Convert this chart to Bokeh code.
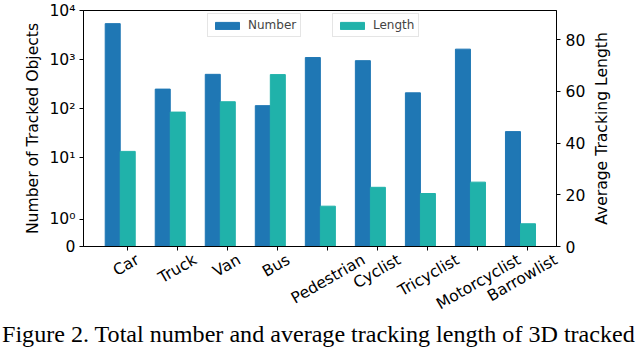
import math
from bokeh.plotting import figure
from bokeh.layouts import row, column
from bokeh.models import (Range1d, LinearAxis, FixedTicker, SingleIntervalTicker,
                          CustomJSTickFormatter, Legend, LegendItem, ColumnDataSource,
                          Title, Div)
from bokeh.embed import file_html
from bokeh.resources import INLINE

# ---------------- data ----------------
categories = ["Car", "Truck", "Van", "Bus", "Pedestrian", "Cyclist",
              "Tricyclist", "Motorcyclist", "Barrowlist"]
number_objects = [5400, 250, 500, 115, 1100, 950, 210, 1630, 34]
avg_length = [36.8, 52.0, 56.0, 66.5, 15.6, 22.9, 20.5, 24.9, 8.8]
left_tick_values = [0, 1, 10, 100, 1000, 10000]
left_tick_labels = ["0", "10\u2070", "10\u00b9", "10\u00b2", "10\u00b3", "10\u2074"]
right_max = 91.3
left_title = "Number of Tracked Objects"
right_title = "Average Tracking Length"
caption = "Figure 2. Total number and average tracking length of 3D tracked"

BLUE = "#1f77b4"
TEAL = "#20b2aa"
FONT = "DejaVu Sans"
FS = "15.6px"
fs_px = 15.6

CAP_H = 22                   # height of the caption strip
H_MAIN = 348 - CAP_H
RW = 50                      # width of the narrow panel holding the right title
W_MAIN = 640 - RW
BL, BT = 83, 10
BB = H_MAIN - 246
BR = W_MAIN - 556
X0, X1 = -0.884, 8.57
ppu = (W_MAIN - BL - BR) / (X1 - X0)

# symlog scale (matplotlib-like, linthresh=2, linscale=1)
LINTHRESH = 2.0
LINSCALE_ADJ = 1.0 / (1.0 - 1.0 / 10.0)


def symlog(v):
    if v <= LINTHRESH:
        return v / LINTHRESH * LINSCALE_ADJ
    return LINSCALE_ADJ + math.log10(v / LINTHRESH)


# approximate DejaVu Sans advance widths (em): used to centre rotated labels on ticks
WID = {"C": .698, "a": .613, "r": .411, "T": .611, "u": .634, "c": .550, "k": .579,
       "V": .684, "n": .634, "B": .686, "s": .521, "P": .603, "e": .615, "d": .635,
       "t": .392, "i": .278, "y": .592, "l": .278, "M": .863, "o": .612, "w": .818}


def text_w(t):
    return sum(WID.get(ch, 0.6) for ch in t) * fs_px


xs = list(range(len(categories)))
label_pos = [min(i + (0.464 * text_w(c) - 2.5) / ppu, X1 - 0.01)
             for i, c in zip(xs, categories)]

src = ColumnDataSource(dict(
    x=xs,
    xn=[i - 0.3 for i in xs],
    num_t=[symlog(v) for v in number_objects],
    length=avg_length,
))

p = figure(width=W_MAIN, height=H_MAIN,
           x_range=Range1d(X0, X1),
           y_range=Range1d(0, symlog(left_tick_values[-1])),
           output_backend="svg", toolbar_location=None,
           min_border_left=BL, min_border_right=BR,
           min_border_top=BT, min_border_bottom=BB)
p.xgrid.visible = False
p.ygrid.visible = False
p.outline_line_color = "black"
p.outline_line_alpha = 1.0
p.outline_line_width = 1

r1 = p.vbar(x="xn", top="num_t", width=0.3, bottom=0, source=src,
            fill_color=BLUE, line_color=BLUE)
p.extra_y_ranges = {"len": Range1d(0, right_max)}
r2 = p.vbar(x="x", top="length", width=0.3, bottom=0, source=src,
            fill_color=TEAL, line_color=TEAL, y_range_name="len")


def style_axis(ax):
    ax.axis_line_color = "black"
    ax.major_tick_line_color = "black"
    ax.major_tick_out = 4
    ax.major_tick_in = 0
    ax.minor_tick_out = 0
    ax.minor_tick_in = 0
    ax.major_label_text_font = FONT
    ax.major_label_text_font_size = FS
    ax.major_label_text_color = "black"
    ax.axis_label_text_font = FONT
    ax.axis_label_text_font_size = FS
    ax.axis_label_text_font_style = "normal"
    ax.axis_label_text_color = "black"


# left axis (symlog)
yax = p.yaxis[0]
style_axis(yax)
yax.ticker = FixedTicker(ticks=[symlog(v) for v in left_tick_values])
yax.formatter = CustomJSTickFormatter(
    args=dict(vals=[symlog(v) for v in left_tick_values], labels=left_tick_labels),
    code="""
    for (let i = 0; i < vals.length; i++) {
        if (Math.abs(vals[i] - tick) < 1e-6) { return labels[i]; }
    }
    return "";
    """)
yax.axis_label = left_title
yax.major_label_standoff = 4
yax.axis_label_standoff = 4

# bottom axis: tick marks at the categories
xax = p.xaxis[0]
style_axis(xax)
xax.ticker = FixedTicker(ticks=xs)
xax.formatter = CustomJSTickFormatter(code="return '';")
xax.major_label_text_font_size = "1px"
xax.major_label_standoff = 0

# second bottom axis: rotated category names, centred on the ticks like the original
lax = LinearAxis(ticker=FixedTicker(ticks=label_pos))
style_axis(lax)
lax.axis_line_color = None
lax.major_tick_line_color = None
lax.major_tick_out = 0
lax.formatter = CustomJSTickFormatter(
    args=dict(vals=label_pos, labels=categories),
    code="""
    for (let i = 0; i < vals.length; i++) {
        if (Math.abs(vals[i] - tick) < 1e-6) { return labels[i]; }
    }
    return "";
    """)
lax.major_label_orientation = math.pi / 6
lax.major_label_standoff = 8
p.add_layout(lax, "below")

# right axis (its title is drawn in the narrow panel at the right)
ax2 = LinearAxis(y_range_name="len",
                 ticker=SingleIntervalTicker(interval=20, num_minor_ticks=0))
style_axis(ax2)
ax2.major_label_standoff = 5
p.add_layout(ax2, "right")

# legends
common = dict(label_text_font=FONT, label_text_font_size="12px",
              glyph_width=30, glyph_height=9, label_standoff=6, padding=4,
              spacing=0, margin=0, label_height=14,
              border_line_color="#cccccc", border_line_width=1,
              background_fill_color="white", background_fill_alpha=0.8)
leg1 = Legend(items=[LegendItem(label="Number", renderers=[r1])],
              location=(207 - BL, 246 - 37), **common)
leg2 = Legend(items=[LegendItem(label="Length", renderers=[r2])],
              location=(332 - BL, 246 - 37), **common)
p.add_layout(leg1)
p.add_layout(leg2)

# narrow right panel: right-hand axis title, reading bottom-to-top
pr = figure(width=RW, height=H_MAIN, output_backend="svg", toolbar_location=None,
            x_axis_location=None, y_axis_location=None,
            min_border_left=0, min_border_right=0,
            min_border_top=BT, min_border_bottom=BB)
pr.outline_line_color = None
pr.xgrid.visible = False
pr.ygrid.visible = False
pr.add_layout(Title(text=right_title, align="center", standoff=0,
                    text_font=FONT, text_font_size=FS, text_font_style="normal",
                    text_color="black"), "left")

# caption under the figure
cap = Div(text=caption, width=640, height=CAP_H, margin=0,
          styles={"font-family": "'Liberation Serif'", "font-size": "24.1px",
                  "line-height": f"{CAP_H}px", "white-space": "nowrap",
                  "color": "black", "position": "relative", "top": "-3px",
                  "padding-left": "2px", "overflow": "visible"})

layout = column(row(p, pr, spacing=0), cap, spacing=0)
open("out.html", "w").write(file_html(layout, INLINE))
